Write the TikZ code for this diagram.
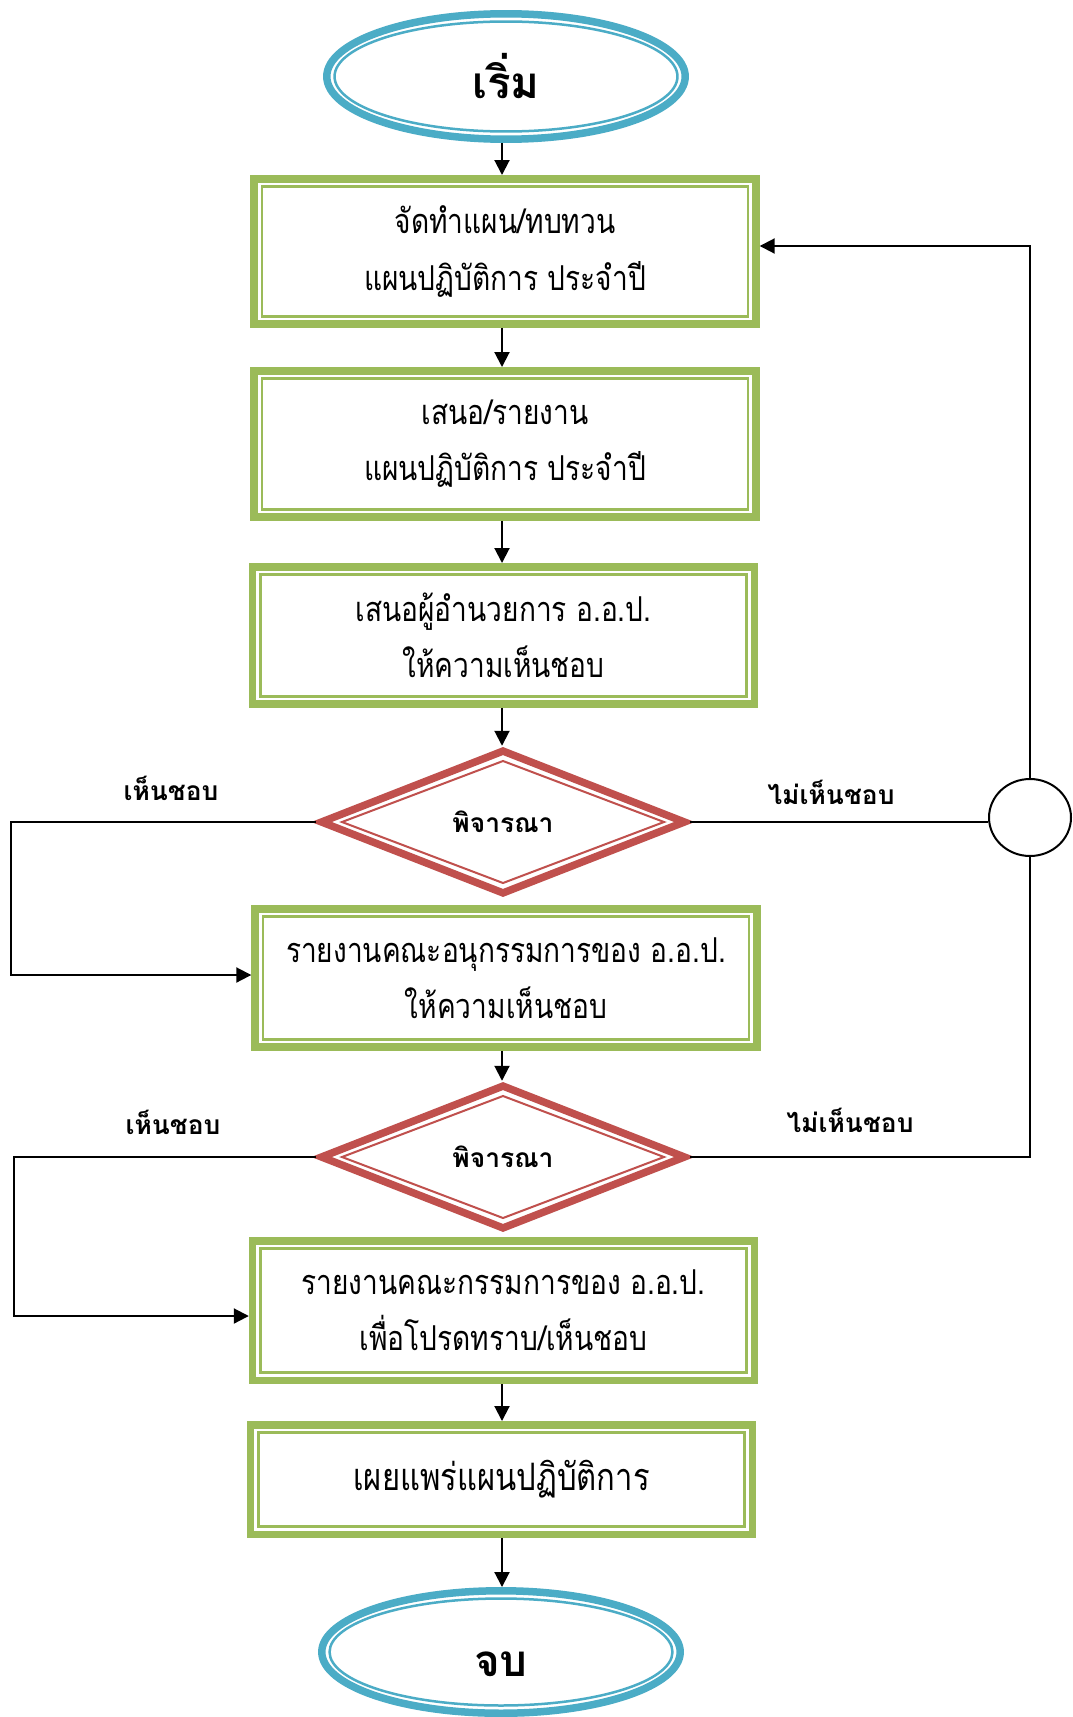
\documentclass[tikz,border=0pt]{standalone}
\usepackage{fontspec}
\newfontfamily\thaifont[Script=Thai]{Loma}
\newfontfamily\thainarrow[Script=Thai,FakeStretch=0.82]{Loma}
\usetikzlibrary{shapes.geometric,arrows.meta,calc}
\definecolor{bgreen}{HTML}{9BBB59}
\definecolor{bblue}{HTML}{4BACC6}
\definecolor{bred}{HTML}{C0504D}
\newcommand{\innerbox}[1]{\draw[thingreen] ($(#1.south west)+(11.5,-11.5)$) rectangle ($(#1.north east)+(-11.5,11.5)$);}
\newcommand{\innerdiam}[1]{\draw[thinred] ($(#1.center)+(-161,0)$) -- ($(#1.center)+(0,-61)$) -- ($(#1.center)+(161,0)$) -- ($(#1.center)+(0,61)$) -- cycle;}
\begin{document}
\begin{tikzpicture}[x=0.02cm,y=-0.02cm,
  procbox/.style={draw=bgreen, line width=0.15cm, rectangle, minimum width=10.04cm,
    align=center, inner sep=0pt, font=\thainarrow\fontsize{19.5}{32}\selectfont},
  thingreen/.style={draw=bgreen, line width=0.05cm},
  termnode/.style={draw=bblue, line width=0.15cm, ellipse, minimum width=7.17cm,
    inner sep=0pt, font=\thaifont\bfseries\fontsize{25}{30}\selectfont},
  termtext/.style={inner sep=0pt, font=\thaifont\bfseries\fontsize{25}{30}\selectfont},
  thinblue/.style={draw=bblue, line width=0.05cm},
  decnode/.style={draw=bred, line width=0.15cm, diamond, miter limit=20,
    minimum width=7.32cm, minimum height=2.9cm, inner sep=0pt,
    font=\thaifont\bfseries\fontsize{15}{18}\selectfont},
  thinred/.style={draw=bred, line width=0.04cm},
  lbl/.style={font=\thaifont\bfseries\fontsize{15}{18}\selectfont, inner sep=0pt},
  conn/.style={draw=black, line width=0.04cm},
  arr/.style={conn, -{Triangle[length=0.3cm, width=0.3cm]}},
  joinnode/.style={draw=black, line width=0.04cm, ellipse, minimum width=1.64cm, minimum height=1.54cm, inner sep=0pt}
]
\clip (0,0) rectangle (1072,1717);
\fill[white] (0,0) rectangle (1072,1717);

\node[termnode, minimum height=2.51cm] (st) at (506,76.5) {เริ่ม};
\draw[thinblue] (st.center) ellipse [x radius=3.43cm, y radius=1.1cm];

\node[procbox, minimum height=2.91cm] (b1) at (505,251.5) {จัดทำแผน/ทบทวน\\แผนปฏิบัติการ ประจำปี};
\innerbox{b1}
\node[procbox, minimum height=2.93cm] (b2) at (505,444) {เสนอ/รายงาน\\แผนปฏิบัติการ ประจำปี};
\innerbox{b2}
\node[procbox, minimum height=2.75cm] (b3) at (503.5,635.5) {เสนอผู้อำนวยการ อ.อ.ป.\\ให้ความเห็นชอบ};
\innerbox{b3}

\node[decnode] (d1) at (503,822) {พิจารณา};
\innerdiam{d1}

\node[procbox, minimum height=2.77cm] (b4) at (506,978) {รายงานคณะอนุกรรมการของ อ.อ.ป.\\ให้ความเห็นชอบ};
\innerbox{b4}

\node[decnode] (d2) at (503,1157) {พิจารณา};
\innerdiam{d2}

\node[procbox, minimum height=2.79cm] (b5) at (503.5,1310.5) {รายงานคณะกรรมการของ อ.อ.ป.\\เพื่อโปรดทราบ/เห็นชอบ};
\innerbox{b5}
\node[procbox, minimum height=2.19cm, font=\thainarrow\fontsize{21.5}{32}\selectfont] (b6) at (501.5,1479.5) {เผยแพร่แผนปฏิบัติการ};
\innerbox{b6}

\node[termnode, minimum height=2.45cm] (en) at (501,1652) {};
\draw[thinblue] (en.center) ellipse [x radius=3.43cm, y radius=1.07cm];
\node[termtext] (ent) at (501,1664) {จบ};

\node[joinnode] (jn) at (1030,817.5) {};

% labels
\node[lbl] (y1) at (171,788) {เห็นชอบ};
\node[lbl] (n1) at (831,792) {ไม่เห็นชอบ};
\node[lbl] (y2) at (173,1122) {เห็นชอบ};
\node[lbl] (n2) at (850,1120) {ไม่เห็นชอบ};

% main flow
\coordinate (cx) at (502,0);
\draw[arr] (st.south -| cx) -- (b1.north -| cx);
\draw[arr] (b1.south -| cx) -- (b2.north -| cx);
\draw[arr] (b2.south -| cx) -- (b3.north -| cx);
\draw[arr] (b3.south -| cx) -- (d1.north -| cx);
\draw[arr] (b4.south -| cx) -- (d2.north -| cx);
\draw[arr] (b5.south -| cx) -- (b6.north -| cx);
\draw[arr] (b6.south -| cx) -- (en.north -| cx);

% approve branches
\coordinate (l1) at (11,975);
\draw[arr] (d1.west) -| (l1) -- (l1 -| b4.west);
\coordinate (l2) at (14,1316);
\draw[arr] (d2.west) -| (l2) -- (l2 -| b5.west);

% reject branches
\draw[conn] (d1.east) -- (d1.east -| jn.west);
\coordinate (r1) at (1030,246);
\draw[arr] (jn.north) -- (r1) -- (r1 -| b1.east);
\draw[conn] (jn.south) |- (d2.east);
\end{tikzpicture}
\end{document}
